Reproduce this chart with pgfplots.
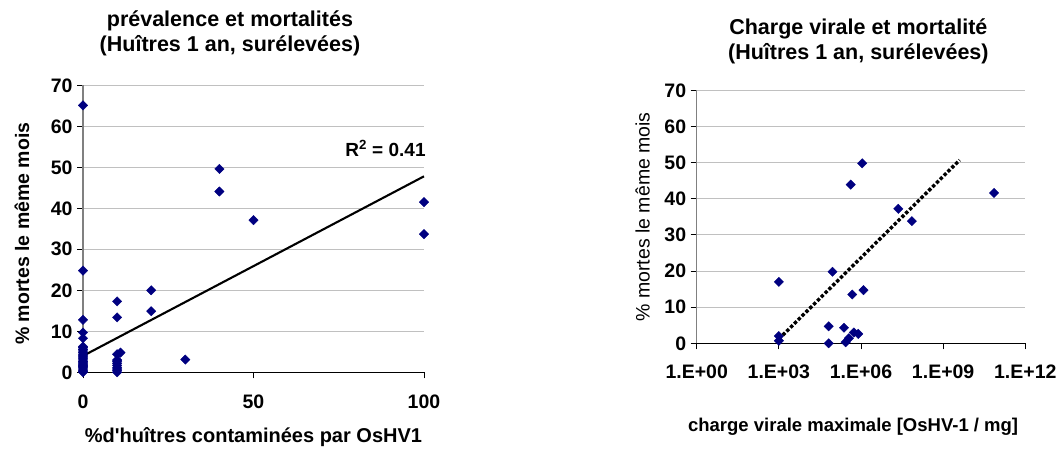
\documentclass[border=0pt]{standalone}
\usepackage{fontspec}
\setmainfont{Liberation Sans}
\usepackage{pgfplots}
\pgfplotsset{compat=1.18}
\definecolor{navy}{HTML}{000080}
\definecolor{gridgray}{HTML}{C0C0C0}
\definecolor{axgray}{HTML}{808080}
\newcommand{\tickfont}{\fontsize{19.5pt}{22pt}\selectfont\bfseries}
\newcommand{\titlefont}{\fontsize{21.5pt}{25pt}\selectfont\bfseries}
\begin{document}
\begin{tikzpicture}
\path (0pt,0pt) rectangle (1062pt,448pt);
% ---------- left chart ----------
\begin{axis}[
  at={(83pt,75.7pt)}, anchor=south west,
  scale only axis, width=341pt, height=287pt,
  xmin=0, xmax=100, ymin=0, ymax=70,
  axis x line=bottom, axis y line=left,
  x axis line style={-, black, line width=1pt},
  y axis line style={-, axgray, line width=1.2pt},
  xtick={0,50,100}, xticklabels={0,50,100},
  ytick={0,10,20,30,40,50,60,70}, yticklabels={0,10,20,30,40,50,60,70},
  tick align=outside, major tick length=6pt,
  tick style={black, line width=0.8pt},
  ymajorgrids, grid style={gridgray, line width=0.8pt},
  ticklabel style={font=\tickfont},
  xticklabel style={yshift=-13pt},
  yticklabel style={xshift=-1pt},
  clip=false,
  title={prévalence et mortalités\\(Huîtres 1 an, surélevées)},
  title style={font=\titlefont, align=center, at={(axis description cs:0.431,1)}, anchor=center, yshift=46pt},
  xlabel={\%d\textquotesingle huîtres contaminées par OsHV1},
  xlabel style={font=\fontsize{20pt}{24pt}\selectfont\bfseries, at={(axis description cs:0.5,0)}, anchor=center, yshift=-65pt},
  ylabel={\% mortes le même mois},
  ylabel style={font=\fontsize{19.5pt}{24pt}\selectfont\bfseries, at={(axis description cs:-0.179,0.483)}, anchor=center},
]
\addplot[only marks, mark=square*, mark size=3.3pt, mark options={rotate=45, fill=navy, draw=navy}] coordinates {
(0,0) (0,0.2) (0,0.5) (0,0.8) (0,1.1) (0,1.4) (0,1.7) (0,2) (0,2.3) (0,2.6) (0,3) (0,3.3) (0,3.7) (0,4) (0,4.4) (0,4.8) (0,5.2) (0,5.6) (0,6) (0,6.3) (0,8.3) (0,9.7) (0,12.8) (0,24.8) (0,65.1)
(10,0) (10,0.4) (10,0.8) (10,1.2) (10,1.7) (10,2.2) (10,2.7) (10,3) (10,4.4) (10,13.4) (10,17.3) (11,4.8)
(20,20.0) (20,14.9)
(30,3.1)
(40,49.6) (40,44.1)
(50,37.1)
(100,41.5) (100,33.7)
};
\addplot[black, line width=2.1pt] coordinates {(0,4.0) (100,47.8)};
\node[font=\fontsize{19pt}{20pt}\selectfont\bfseries, anchor=east] at (axis cs:101.5,54.6) {R$^{\mathbf 2}$ = 0.41};
\end{axis}
% ---------- right chart ----------
\begin{axis}[
  at={(696.7pt,104.7pt)}, anchor=south west,
  scale only axis, width=328.6pt, height=253pt,
  xmode=log, log basis x=10,
  xmin=1, xmax=1e12, ymin=0, ymax=70,
  axis x line=bottom, axis y line=left,
  x axis line style={-, black, line width=1pt},
  y axis line style={-, axgray, line width=1.2pt},
  xtick={1,1e3,1e6,1e9,1e12}, xticklabels={1.E+00,1.E+03,1.E+06,1.E+09,1.E+12},
  minor xtick={},
  ytick={0,10,20,30,40,50,60,70}, yticklabels={0,10,20,30,40,50,60,70},
  tick align=outside, major tick length=6pt,
  tick style={black, line width=0.8pt},
  ymajorgrids, grid style={gridgray, line width=0.8pt},
  ticklabel style={font=\tickfont},
  xticklabel style={yshift=-12pt},
  yticklabel style={xshift=-1pt},
  clip=false,
  title={Charge virale et mortalité\\(Huîtres 1 an, surélevées)},
  title style={font=\titlefont, align=center, at={(axis description cs:0.492,1)}, anchor=center, yshift=43pt},
  xlabel={charge virale maximale [OsHV-1 / mg]},
  xlabel style={font=\fontsize{18.5pt}{22pt}\selectfont\bfseries, at={(axis description cs:0.476,0)}, anchor=center, yshift=-83pt},
  ylabel={\% mortes le même mois},
  ylabel style={font=\fontsize{19.5pt}{24pt}\selectfont, at={(axis description cs:-0.1643,0.5)}, anchor=center},
]
\addplot[only marks, mark=square*, mark size=3.3pt, mark options={rotate=45, fill=navy, draw=navy}] coordinates {
(1e3,17.0) (1e3,2.0) (1e3,0.7)
(1.1e6,49.8) (4.2e5,43.9) (2.3e7,37.2) (7.2e7,33.8) (7.2e10,41.6)
(9.1e4,19.8) (1.23e6,14.7) (4.8e5,13.5)
(6.6e4,4.7) (2.4e5,4.3) (5.5e5,3.0) (7.9e5,2.6)
(6.6e4,0) (2.75e5,0.3) (3.6e5,1.4)
};
\addplot[black, line width=3.4pt, dash pattern=on 3.4pt off 2pt] coordinates {(1e3,1.2) (4e9,50.7)};
\end{axis}
\end{tikzpicture}
\end{document}
